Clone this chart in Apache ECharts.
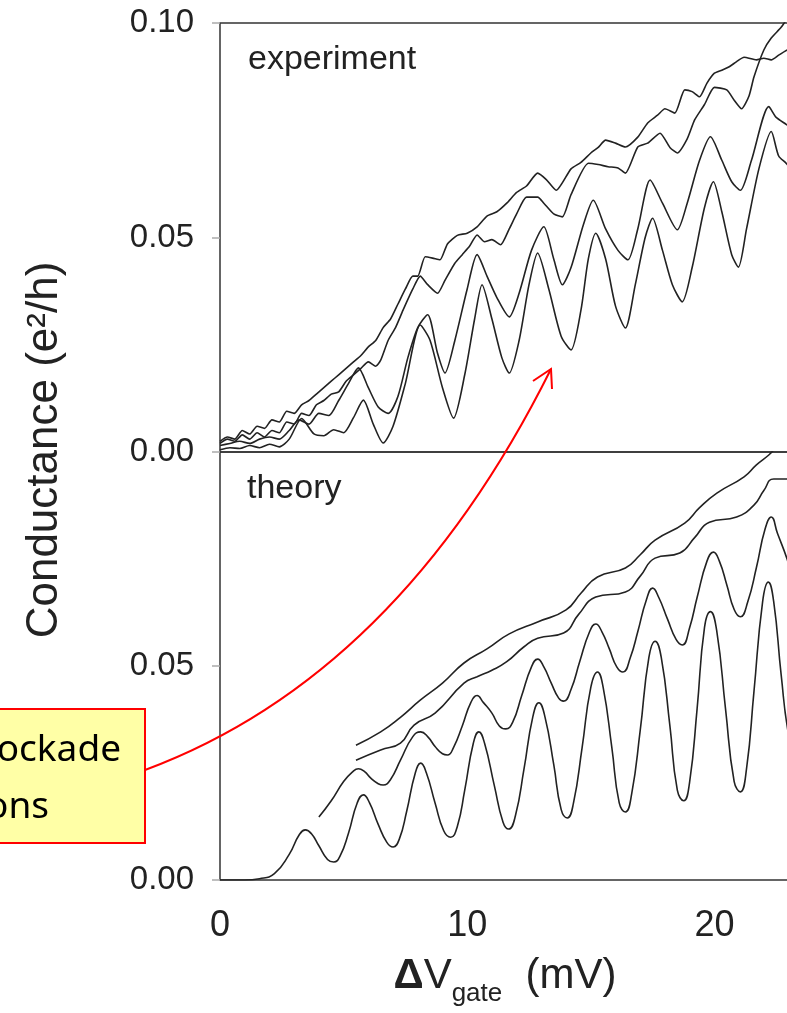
<!DOCTYPE html>
<html>
<head>
<meta charset="utf-8">
<script src="https://cdn.jsdelivr.net/npm/echarts/dist/echarts.min.js"></script>
<style>
  html, body { margin: 0; padding: 0; background: #fff; }
  #chart { width: 787px; height: 1013px; }
</style>
</head>
<body>
<div id="chart"></div>
<script>
  // gate voltage ticks (mV) and conductance ticks (e^2/h)
  const xTicks = [0, 10, 20]
  const yTicks = [0.00, 0.05, 0.10]

  // experiment, four traces, [mV, G]
  const exp1 = [[0,0.0005],[0.4,0.001],[0.8,0.0008],[1.2,0.0015],[1.6,0.001],[2.0,0.0018],[2.4,0.0012],[2.8,0.003],
    [3.3,0.0078],[3.8,0.0042],[4.2,0.0038],[4.6,0.0052],[5.0,0.0045],[5.4,0.008],[5.8,0.0121],[6.2,0.0065],[6.6,0.0021],
    [7.0,0.006],[7.5,0.016],[8.1,0.0296],[8.5,0.026],[9.0,0.015],[9.45,0.0079],[9.9,0.018],[10.3,0.031],[10.6,0.039],
    [11.0,0.031],[11.4,0.022],[11.7,0.0184],[12.1,0.026],[12.5,0.039],[12.85,0.0464],[13.3,0.038],[13.8,0.027],[14.2,0.0238],
    [14.6,0.033],[14.9,0.045],[15.2,0.051],[15.6,0.045],[16.0,0.034],[16.4,0.0289],[16.8,0.039],[17.2,0.05],[17.5,0.0545],
    [17.9,0.047],[18.3,0.039],[18.7,0.035],[19.1,0.043],[19.6,0.057],[19.96,0.063],[20.3,0.056],[20.7,0.046],[20.97,0.0431],
    [21.3,0.052],[21.8,0.066],[22.3,0.0747],[22.6,0.069],[22.95,0.067],[23.4,0.062]]
  const exp2 = [[0,0.0015],[0.4,0.002],[0.8,0.0025],[1.2,0.002],[1.6,0.003],[2.0,0.0035],[2.4,0.003],[2.8,0.005],
    [3.2,0.0075],[3.6,0.0065],[4.0,0.009],[4.4,0.0085],[4.8,0.012],[5.2,0.016],[5.6,0.0196],[6.0,0.015],[6.4,0.0105],
    [6.8,0.009],[7.2,0.013],[7.6,0.022],[8.0,0.029],[8.4,0.032],[8.8,0.023],[9.1,0.0184],[9.5,0.026],[10.0,0.038],
    [10.4,0.046],[10.8,0.041],[11.2,0.036],[11.7,0.0315],[12.1,0.037],[12.6,0.047],[13.1,0.0525],[13.5,0.045],[13.85,0.039],
    [14.2,0.043],[14.7,0.053],[15.1,0.0587],[15.6,0.052],[16.1,0.047],[16.5,0.0448],[16.9,0.052],[17.4,0.0634],[17.9,0.058],
    [18.5,0.0518],[18.9,0.058],[19.4,0.068],[19.84,0.0735],[20.3,0.068],[20.7,0.063],[21.05,0.061],[21.5,0.068],[22.2,0.0805],
    [22.5,0.078],[22.95,0.0762],[23.4,0.074]]
  const exp3 = [[0,0.002],[0.3,0.003],[0.6,0.0025],[0.9,0.004],[1.2,0.003],[1.5,0.0045],[1.8,0.0035],[2.1,0.005],
    [2.4,0.0045],[2.7,0.007],[3.0,0.0065],[3.3,0.009],[3.6,0.0085],[3.9,0.011],[4.2,0.012],[4.5,0.0135],[4.8,0.014],
    [5.1,0.0165],[5.4,0.018],[5.7,0.0195],[6.0,0.021],[6.3,0.02],[6.5,0.0214],[6.8,0.026],[7.1,0.029],[7.4,0.033],
    [7.8,0.038],[8.1,0.041],[8.4,0.039],[8.8,0.037],[9.1,0.04],[9.5,0.044],[9.8,0.046],[10.1,0.048],[10.4,0.0506],
    [10.7,0.049],[11.0,0.0495],[11.35,0.0483],[11.7,0.052],[12.0,0.0555],[12.4,0.0594],[12.85,0.0594],[13.1,0.058],
    [13.5,0.0555],[13.85,0.0548],[14.2,0.06],[14.9,0.0673],[15.3,0.067],[15.7,0.0665],[16.1,0.0662],[16.4,0.065],
    [16.9,0.0711],[17.3,0.072],[17.8,0.0743],[18.2,0.071],[18.5,0.0697],[18.9,0.073],[19.2,0.0774],[19.6,0.081],
    [20.0,0.085],[20.5,0.0844],[20.8,0.082],[21.1,0.08],[21.4,0.083],[21.6,0.0874],[22.0,0.0937],[22.3,0.0965],
    [22.7,0.099],[23.0,0.1015]]
  const exp4 = [[0,0.0025],[0.3,0.0035],[0.6,0.003],[0.9,0.005],[1.2,0.0042],[1.5,0.006],[1.8,0.0055],[2.1,0.0075],
    [2.4,0.007],[2.7,0.0095],[3.0,0.009],[3.3,0.011],[3.6,0.012],[3.9,0.0135],[4.2,0.015],[4.5,0.0165],[4.8,0.018],
    [5.1,0.0195],[5.4,0.021],[5.7,0.0225],[6.0,0.0245],[6.3,0.026],[6.6,0.029],[6.9,0.031],[7.2,0.0345],[7.5,0.038],
    [7.8,0.041],[8.0,0.041],[8.3,0.0455],[8.6,0.0452],[8.9,0.0448],[9.2,0.0485],[9.6,0.0505],[10.0,0.051],[10.4,0.0525],
    [10.8,0.055],[11.2,0.056],[11.6,0.058],[12.0,0.0605],[12.4,0.062],[12.85,0.065],[13.2,0.0635],[13.6,0.061],[14.2,0.066],
    [14.6,0.0675],[15.0,0.0697],[15.3,0.071],[15.6,0.0727],[16.0,0.072],[16.4,0.0711],[16.9,0.0734],[17.3,0.0767],
    [17.7,0.0785],[18.0,0.08],[18.4,0.079],[18.8,0.0844],[19.1,0.084],[19.4,0.0828],[19.7,0.086],[20.0,0.0883],[20.3,0.089],
    [20.6,0.0898],[20.9,0.091],[21.2,0.092],[21.7,0.0914],[22.0,0.0918],[22.3,0.0914],[22.6,0.0925],[22.95,0.0937],[23.4,0.095]]

  // theory, four traces, [mV, G]
  const th1 = [[0,0],[1.0,0],[1.6,0.0003],[2.2,0.0015],[2.8,0.006],[3.2,0.0105],[3.45,0.0117],[3.7,0.0108],[4.0,0.008],
    [4.35,0.0048],[4.6,0.0042],[4.85,0.0055],[5.2,0.011],[5.55,0.018],[5.8,0.0199],[6.05,0.018],[6.4,0.013],[6.75,0.0088],
    [7.0,0.0077],[7.25,0.0095],[7.55,0.016],[7.9,0.025],[8.12,0.0273],[8.35,0.025],[8.7,0.018],[9.05,0.0115],[9.33,0.01],
    [9.6,0.0125],[9.9,0.021],[10.25,0.032],[10.47,0.0346],[10.7,0.032],[11.1,0.022],[11.45,0.0135],[11.68,0.0119],
    [11.95,0.015],[12.3,0.026],[12.65,0.038],[12.9,0.0414],[13.15,0.038],[13.5,0.027],[13.8,0.0165],[14.05,0.0145],
    [14.3,0.018],[14.65,0.031],[15.0,0.045],[15.27,0.0486],[15.5,0.045],[15.85,0.031],[16.15,0.018],[16.4,0.0159],
    [16.65,0.02],[17.0,0.035],[17.35,0.052],[17.6,0.0558],[17.85,0.052],[18.2,0.036],[18.5,0.021],[18.76,0.0185],
    [19.0,0.023],[19.3,0.04],[19.6,0.059],[19.84,0.0627],[20.1,0.058],[20.45,0.04],[20.8,0.023],[21.05,0.0206],
    [21.3,0.026],[21.6,0.044],[21.95,0.065],[22.18,0.0696],[22.4,0.065],[22.7,0.048],[23.0,0.034],[23.5,0.022]]
  const th2 = [[4.0,0.0147],[4.5,0.0185],[5.0,0.023],[5.35,0.0252],[5.6,0.026],[5.85,0.0253],[6.1,0.0238],[6.4,0.0225],
    [6.6,0.0222],[6.9,0.0235],[7.3,0.028],[7.8,0.0335],[8.12,0.0346],[8.4,0.0335],[8.7,0.0312],[9.0,0.0295],[9.2,0.0292],
    [9.45,0.031],[9.8,0.036],[10.15,0.0415],[10.4,0.0431],[10.65,0.0415],[11.0,0.039],[11.3,0.036],[11.56,0.0353],
    [11.85,0.037],[12.2,0.043],[12.6,0.0498],[12.85,0.0516],[13.1,0.0498],[13.4,0.046],[13.7,0.0425],[13.9,0.0418],
    [14.2,0.0445],[14.55,0.051],[14.95,0.058],[15.2,0.0598],[15.45,0.058],[15.75,0.054],[16.05,0.0498],[16.3,0.0486],
    [16.6,0.052],[16.9,0.058],[17.25,0.0655],[17.5,0.0682],[17.75,0.066],[18.1,0.061],[18.45,0.0562],[18.7,0.0549],
    [19.0,0.059],[19.3,0.066],[19.7,0.0745],[19.96,0.0766],[20.2,0.0745],[20.5,0.069],[20.8,0.0632],[21.05,0.0615],
    [21.35,0.065],[21.7,0.073],[22.05,0.082],[22.3,0.0848],[22.55,0.081],[22.95,0.0748],[23.4,0.066]]
  const th3 = [[5.5,0.028],[6.5,0.0304],[7.3,0.032],[7.85,0.0362],[8.7,0.039],[9.87,0.046],[10.4,0.0475],[11.0,0.049],
    [11.6,0.051],[12.3,0.0545],[12.85,0.0565],[13.9,0.0577],[14.5,0.062],[15.2,0.0661],[16.4,0.0673],[17.0,0.071],
    [17.6,0.0752],[18.6,0.0764],[19.2,0.08],[19.8,0.0836],[20.9,0.0848],[21.6,0.0876],[22.0,0.091],[22.4,0.0937],[23.5,0.0937]]
  const th4 = [[5.5,0.0315],[6.5,0.0346],[7.3,0.038],[8.1,0.042],[9.0,0.046],[9.87,0.0507],[10.8,0.054],[11.7,0.0575],
    [12.85,0.0603],[14.0,0.0631],[14.6,0.067],[15.27,0.0708],[16.4,0.0729],[17.0,0.076],[17.6,0.0794],[18.8,0.0834],
    [19.4,0.087],[20.1,0.0904],[21.2,0.0942],[21.7,0.097],[22.2,0.0993],[22.4,0.1005]]

  const ink = '#222'
  const font = '"Liberation Sans", Arial, sans-serif'

  function line (data, idx, smooth) {
    return {
      type: 'line',
      xAxisIndex: idx,
      yAxisIndex: idx,
      data: data,
      smooth: smooth,
      showSymbol: false,
      silent: true,
      lineStyle: { color: ink, width: 1.6 }
    }
  }

  function yAxis (idx, hideTop) {
    return {
      gridIndex: idx,
      type: 'value',
      min: yTicks[0],
      max: yTicks[yTicks.length - 1],
      interval: 0.05,
      axisLine: { show: false },
      axisTick: { show: true, length: 8, lineStyle: { color: '#aaa', width: 1.5 } },
      splitLine: { show: false },
      axisLabel: {
        margin: 26,
        color: ink,
        fontSize: 33,
        fontFamily: font,
        formatter: function (v) {
          if (hideTop && v > 0.099) return ''
          return v.toFixed(2)
        }
      }
    }
  }

  function xAxis (idx, labels) {
    return {
      gridIndex: idx,
      type: 'value',
      min: 0,
      max: 25,
      interval: 10,
      axisLine: { show: false },
      axisTick: { show: false },
      splitLine: { show: false },
      axisLabel: {
        show: labels,
        margin: 28,
        color: ink,
        fontSize: 36,
        fontFamily: font,
        formatter: function (v) { return xTicks.indexOf(v) >= 0 ? String(v) : '' }
      }
    }
  }

  // the plot runs past the right edge of the page, as in the scan
  const frame = {
    show: true, borderColor: '#333', borderWidth: 1.5, backgroundColor: 'transparent',
    containLabel: false, outerBoundsMode: 'none'
  }

  const option = {
    animation: false,
    backgroundColor: '#fff',
    grid: [
      Object.assign({ left: 220, top: 23, width: 618, height: 429 }, frame),
      Object.assign({ left: 220, top: 452, width: 618, height: 428 }, frame)
    ],
    xAxis: [xAxis(0, false), xAxis(1, true)],
    yAxis: [yAxis(0, false), yAxis(1, true)],
    series: [
      line(exp1, 0, 0.25), line(exp2, 0, 0.25), line(exp3, 0, 0.2), line(exp4, 0, 0.2),
      line(th1, 1, 0.5), line(th2, 1, 0.5), line(th3, 1, 0.5), line(th4, 1, 0.5)
    ],
    graphic: [
      {
        type: 'text', x: 45, y: 450, rotation: Math.PI / 2,
        style: { text: 'Conductance (e²/h)', font: '44px ' + font, fill: ink, align: 'center', verticalAlign: 'middle' }
      },
      {
        type: 'text', x: 505, y: 976,
        style: {
          text: '{d|Δ}{a|V}{s|gate}{a|  (mV)}',
          align: 'center', verticalAlign: 'middle',
          rich: {
            d: { font: 'bold 42px ' + font, fill: ink },
            a: { font: '42px ' + font, fill: ink },
            s: { font: '26px ' + font, fill: ink, padding: [36, 0, 0, 0] }
          }
        }
      },
      {
        type: 'text', x: 248, y: 60,
        style: { text: 'experiment', font: '34px ' + font, fill: ink, align: 'left', verticalAlign: 'middle' }
      },
      {
        type: 'text', x: 247, y: 489,
        style: { text: 'theory', font: '34px ' + font, fill: ink, align: 'left', verticalAlign: 'middle' }
      },
      // callout box, its left part runs off the page
      {
        type: 'rect', z: 10,
        shape: { x: -30, y: 709, width: 175, height: 134 },
        style: { fill: '#ffffa6', stroke: '#ff0000', lineWidth: 2 }
      },
      {
        type: 'text', z: 11, x: 121, y: 750,
        style: { text: 'Coulomb blockade', font: '37px "Noto Sans", sans-serif', fill: '#000', align: 'right', verticalAlign: 'middle' }
      },
      {
        type: 'text', z: 11, x: 49, y: 807,
        style: { text: 'oscillations', font: '37px "Noto Sans", sans-serif', fill: '#000', align: 'right', verticalAlign: 'middle' }
      },
      {
        type: 'bezierCurve', z: 12,
        shape: { x1: 145, y1: 770, cpx1: 398, cpy1: 676, x2: 551, y2: 369 },
        style: { stroke: '#ff0000', lineWidth: 2, fill: null }
      },
      {
        type: 'polyline', z: 12,
        shape: { points: [[533, 381], [551, 369], [552, 389]] },
        style: { stroke: '#ff0000', lineWidth: 2, fill: null }
      }
    ]
  }

  const dom = echarts.init(document.getElementById('chart'), null, { renderer: 'canvas' })
  dom.setOption(option)
</script>
</body>
</html>
